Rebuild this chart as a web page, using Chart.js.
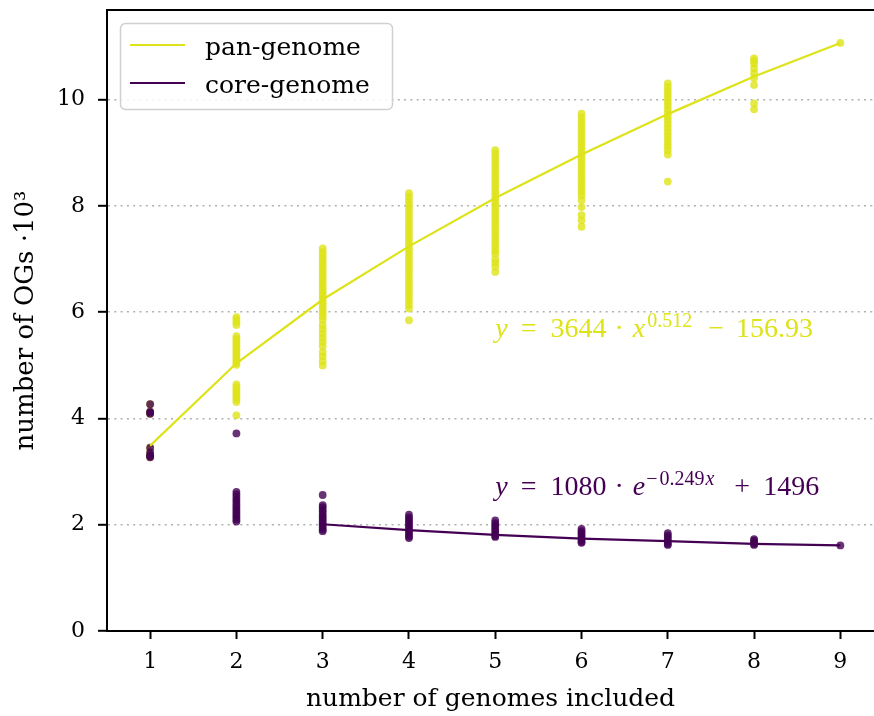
<!DOCTYPE html>
<html>
<head>
<meta charset="utf-8">
<script src="https://cdn.jsdelivr.net/npm/chart.js@4.4.1/dist/chart.umd.min.js"></script>
<style>
  html, body { margin: 0; padding: 0; background: #fff; overflow: hidden; }
  #wrap { width: 874px; height: 716px; }
</style>
</head>
<body>
<div id="wrap"><canvas id="ogChart" width="874" height="716"></canvas></div>
<script>
// number of genomes in each sample (x positions)
const genomeCounts = [1, 2, 3, 4, 5, 6, 7, 8, 9];

// OG counts (x 10^3) of every sampled genome combination, one list per genome count
const panSamples = [
  [4.27, 4.13, 4.11, 4.09, 3.45, 3.36, 3.31, 3.29, 3.27],
  [5.91, 5.86, 5.81, 5.76, 5.55, 5.50, 5.46, 5.41, 5.36, 5.31, 5.27, 5.22, 5.18, 5.13, 5.09, 5.05, 5.01,
   4.64, 4.59, 4.54, 4.50, 4.45, 4.41, 4.36, 4.31, 4.06],
  [7.20, 7.13, 7.07, 7.01, 6.95, 6.89, 6.83, 6.77, 6.71, 6.65, 6.59, 6.53, 6.47, 6.41, 6.35, 6.29, 6.23,
   6.17, 6.11, 6.05, 5.99, 5.93, 5.86, 5.76, 5.68, 5.60, 5.52, 5.44, 5.36, 5.25, 5.17, 5.08, 5.00],
  [8.24, 8.17, 8.10, 8.03, 7.96, 7.89, 7.82, 7.75, 7.68, 7.61, 7.54, 7.47, 7.40, 7.33, 7.26, 7.19, 7.12,
   7.05, 6.98, 6.91, 6.84, 6.77, 6.70, 6.63, 6.56, 6.49, 6.42, 6.35, 6.28, 6.21, 6.14, 6.07, 5.85],
  [9.05, 8.98, 8.91, 8.84, 8.77, 8.70, 8.63, 8.56, 8.49, 8.42, 8.35, 8.28, 8.21, 8.14, 8.07, 8.00, 7.93,
   7.86, 7.79, 7.72, 7.65, 7.58, 7.51, 7.44, 7.37, 7.30, 7.23, 7.16, 7.10, 7.00, 6.93, 6.86, 6.76],
  [9.74, 9.67, 9.60, 9.53, 9.46, 9.39, 9.32, 9.25, 9.18, 9.11, 9.04, 8.97, 8.90, 8.83, 8.76, 8.69, 8.62,
   8.55, 8.48, 8.41, 8.34, 8.27, 8.20, 8.11, 7.98, 7.83, 7.73, 7.61],
  [10.31, 10.24, 10.17, 10.10, 10.03, 9.96, 9.89, 9.82, 9.75, 9.68, 9.61, 9.54, 9.47, 9.40, 9.33, 9.26,
   9.19, 9.12, 9.05, 8.97, 8.46],
  [10.78, 10.73, 10.68, 10.59, 10.50, 10.41, 10.28, 9.93, 9.82],
  [11.07]
];
const coreSamples = [
  [4.27, 4.13, 4.11, 4.09, 3.45, 3.36, 3.31, 3.29, 3.27],
  [3.72, 2.62, 2.57, 2.52, 2.47, 2.43, 2.38, 2.34, 2.30, 2.26, 2.22, 2.18, 2.14, 2.10, 2.06],
  [2.56, 2.37, 2.33, 2.28, 2.24, 2.19, 2.15, 2.11, 2.07, 2.03, 1.99, 1.95, 1.91, 1.88],
  [2.19, 2.14, 2.10, 2.06, 2.02, 1.98, 1.94, 1.90, 1.86, 1.82, 1.78, 1.75],
  [2.08, 2.03, 1.99, 1.95, 1.91, 1.87, 1.83, 1.79, 1.77],
  [1.92, 1.88, 1.84, 1.80, 1.76, 1.72, 1.68, 1.66],
  [1.84, 1.80, 1.76, 1.72, 1.68, 1.64, 1.62],
  [1.73, 1.70, 1.67, 1.64, 1.62],
  [1.61]
];

// fitted curves
const panFit = [3.49, 5.04, 6.24, 7.24, 8.15, 8.97, 9.73, 10.44, 11.07];
const coreFitX = [3, 4, 5, 6, 7, 8, 9];
const coreFit = [2.01, 1.90, 1.81, 1.74, 1.69, 1.64, 1.61];

const xTicks = [1, 2, 3, 4, 5, 6, 7, 8, 9];
const yTicks = [0, 2, 4, 6, 8, 10];
const seriesNames = ['pan-genome', 'core-genome'];

const panColor = '#dde318';
const coreColor = '#440154';
const serif = '"DejaVu Serif", serif';
const mathFont = '"Liberation Serif", serif';

function toPoints(samples) {
  return samples.flatMap((col, i) => col.map(v => ({x: genomeCounts[i], y: v})));
}

// formula labels, drawn piece by piece so the superscripts work
const panFormula = [
  {t: 'y', it: true}, {t: '=', gap: 13}, {t: '3644', gap: 14}, {t: '·', gap: 8},
  {t: 'x', it: true, gap: 9}, {t: '0.512', sup: true, gap: 2}, {t: '−', gap: 16}, {t: '156.93', gap: 12}
];
const coreFormula = [
  {t: 'y', it: true}, {t: '=', gap: 13}, {t: '1080', gap: 14}, {t: '·', gap: 8},
  {t: 'e', it: true, gap: 9}, {t: '−', sup: true, gap: 1}, {t: '0.249', sup: true, gap: 2},
  {t: 'x', sup: true, it: true, gap: 1}, {t: '+', gap: 20}, {t: '1496', gap: 13}
];

function drawFormula(ctx, parts, x, y, color) {
  ctx.save();
  ctx.fillStyle = color;
  ctx.textAlign = 'left';
  ctx.textBaseline = 'alphabetic';
  let cx = x;
  parts.forEach(p => {
    cx += p.gap || 0;
    ctx.font = (p.it ? 'italic ' : '') + (p.sup ? 20 : 28) + 'px ' + mathFont;
    ctx.fillText(p.t, cx, p.sup ? y - 10 : y);
    cx += ctx.measureText(p.t).width;
  });
  ctx.restore();
}

const decor = {
  id: 'decor',
  afterDraw(chart) {
    const {ctx, chartArea, scales} = chart;
    ctx.save();
    // top spine (right one falls outside the picture)
    ctx.strokeStyle = '#000';
    ctx.lineWidth = 2;
    ctx.beginPath();
    ctx.moveTo(chartArea.left - 1, chartArea.top);
    ctx.lineTo(chartArea.right, chartArea.top);
    ctx.stroke();

    drawFormula(ctx, panFormula, scales.x.getPixelForValue(5), scales.y.getPixelForValue(5.53), panColor);
    drawFormula(ctx, coreFormula, scales.x.getPixelForValue(5), scales.y.getPixelForValue(2.555), coreColor);

    // legend
    ctx.beginPath();
    ctx.roundRect(120.5, 23.5, 272, 86, 5);
    ctx.fillStyle = 'rgba(255,255,255,0.85)';
    ctx.fill();
    ctx.strokeStyle = '#d0d0d0';
    ctx.lineWidth = 1.5;
    ctx.stroke();
    [panColor, coreColor].forEach((c, i) => {
      const ly = 45 + i * 38;
      ctx.strokeStyle = c;
      ctx.lineWidth = 2.2;
      ctx.beginPath();
      ctx.moveTo(130, ly);
      ctx.lineTo(185, ly);
      ctx.stroke();
      ctx.fillStyle = '#000';
      ctx.font = '25px ' + serif;
      ctx.textAlign = 'left';
      ctx.textBaseline = 'alphabetic';
      ctx.fillText(seriesNames[i], 205, ly + 9.5);
    });
    ctx.restore();
  }
};

new Chart(document.getElementById('ogChart'), {
  type: 'scatter',
  data: {
    datasets: [
      {
        label: seriesNames[1],
        data: coreFitX.map((x, i) => ({x: x, y: coreFit[i]})),
        showLine: true,
        borderColor: coreColor,
        borderWidth: 2.2,
        pointRadius: 0
      },
      {
        label: seriesNames[0],
        data: genomeCounts.map((x, i) => ({x: x, y: panFit[i]})),
        showLine: true,
        borderColor: panColor,
        borderWidth: 2.2,
        pointRadius: 0
      },
      {
        label: 'core samples',
        data: toPoints(coreSamples),
        pointRadius: 3.9,
        borderWidth: 0,
        backgroundColor: 'rgba(68,1,84,0.8)'
      },
      {
        label: 'pan samples',
        data: toPoints(panSamples),
        pointRadius: 3.9,
        borderWidth: 0,
        backgroundColor: 'rgba(221,227,24,0.8)'
      }
    ]
  },
  options: {
    responsive: false,
    animation: false,
    devicePixelRatio: 1,
    events: [],
    layout: {autoPadding: false, padding: {top: 10, right: 0, bottom: 0, left: 0}},
    plugins: {
      legend: {display: false},
      tooltip: {enabled: false}
    },
    scales: {
      x: {
        type: 'linear',
        min: 0.5,
        max: 9.39,
        afterBuildTicks: s => { s.ticks = xTicks.map(v => ({value: v})); },
        afterFit: s => { s.height = 85; s.paddingLeft = 0; s.paddingRight = 0; },
        grid: {drawOnChartArea: false, tickColor: '#000', tickWidth: 2, tickLength: 8},
        border: {display: true, color: '#000', width: 2},
        ticks: {padding: 10, color: '#000', font: {family: serif, size: 22}},
        title: {
          display: true,
          text: 'number of genomes included',
          color: '#000',
          font: {family: serif, size: 25},
          padding: {top: 0, bottom: 2}
        }
      },
      y: {
        min: 0,
        max: 11.69,
        afterBuildTicks: s => { s.ticks = yTicks.map(v => ({value: v})); },
        afterFit: s => { s.width = 107; s.paddingTop = 0; s.paddingBottom = 0; },
        grid: {
          color: c => (c.tick && c.tick.value === 0) ? 'rgba(0,0,0,0)' : '#b0b0b0',
          lineWidth: 1.6,
          tickColor: '#000',
          tickWidth: 2,
          tickLength: 9
        },
        border: {display: true, color: '#000', width: 2, dash: [2, 4.3]},
        ticks: {padding: 13, color: '#000', font: {family: serif, size: 22}},
        title: {
          display: true,
          text: 'number of OGs ·10³',
          color: '#000',
          font: {family: serif, size: 26},
          padding: {top: 11, bottom: 0}
        }
      }
    }
  },
  plugins: [decor]
});
</script>
</body>
</html>
